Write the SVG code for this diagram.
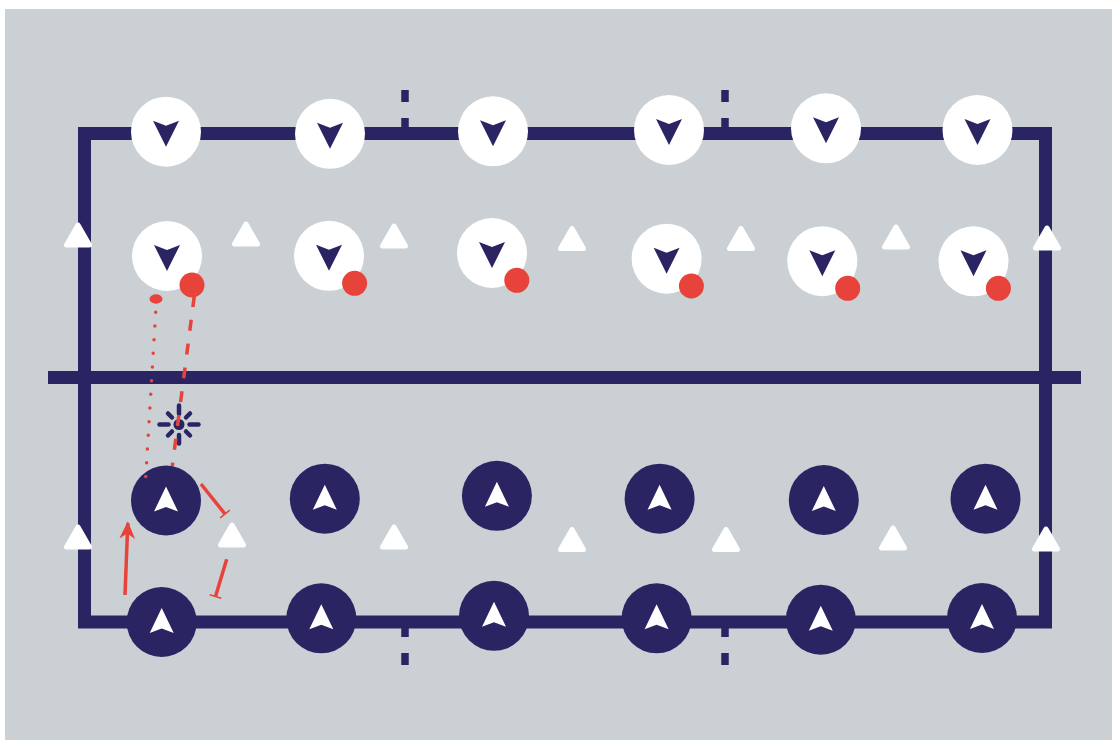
<svg xmlns="http://www.w3.org/2000/svg" width="1112" height="740" viewBox="0 0 1112 740">
<style>
.line{stroke:#2b2463;stroke-width:13;fill:none}
.mark{stroke:#2b2463;stroke-width:7.5;fill:none}
.wc{fill:#ffffff}
.nc{fill:#2b2463}
.cone{fill:#ffffff;stroke:#ffffff;stroke-width:5;stroke-linejoin:round}
.ball{fill:#e8433b}
.red{stroke:#e8433b;fill:none;stroke-width:3.5}
.ray{stroke:#2b2463;stroke-width:4.5;stroke-linecap:round}
</style>
<defs>
<path id="dn" d="M-13,-11 L0,-6 L13,-11 L0,15 Z" fill="#2b2463"/>
<path id="up" d="M0,-14 L12,11 L0,6.5 L-12,11 Z" fill="#ffffff"/>
<polygon id="cn" points="0,-10 -11.5,10 11.5,10" class="cone"/>
<g id="wp"><circle r="35" class="wc"/><use href="#dn"/></g>
<g id="np"><circle r="35" class="nc"/><use href="#up"/></g>
<marker id="ah" viewBox="0 0 10 10" refX="9" refY="5" markerWidth="5" markerHeight="5" orient="auto" markerUnits="strokeWidth">
<path d="M0,0.5 L10,5 L0,9.5 L3,5 Z" fill="#e8433b"/>
</marker>
<marker id="tb" viewBox="-2 -6 4 12" refX="0" refY="0" markerWidth="1.4" markerHeight="4.4" orient="auto" markerUnits="strokeWidth">
<path d="M0,-5 L0,5" stroke="#e8433b" stroke-width="1.2"/>
</marker>
</defs>
<rect x="0" y="0" width="1112" height="740" fill="#ffffff"/>
<rect x="5" y="9" width="1107" height="731" fill="#cad0d4"/>
<g id="field">
<rect x="84.5" y="133.5" width="961" height="488.5" class="line"/>
<line x1="48" y1="377.5" x2="1081" y2="377.5" class="line"/>
<path d="M405,90 V102 M405,118 V130 M725,90 V102 M725,118 V130 M405,620 V637 M405,653 V665 M725,620 V637 M725,653 V665" class="mark"/>
</g>
<g id="cones">
<use href="#cn" x="78" y="235"/>
<use href="#cn" x="246" y="234"/>
<use href="#cn" x="394" y="236"/>
<use href="#cn" x="572" y="238.5"/>
<use href="#cn" x="741" y="238.5"/>
<use href="#cn" x="896" y="237"/>
<use href="#cn" x="1047" y="238"/>
<use href="#cn" x="78" y="537"/>
<use href="#cn" x="232" y="535"/>
<use href="#cn" x="394" y="537"/>
<use href="#cn" x="572" y="539.5"/>
<use href="#cn" x="726" y="539.5"/>
<use href="#cn" x="893" y="538"/>
<use href="#cn" x="1046" y="539"/>
</g>
<g id="team-white">
<use id="w1" href="#wp" x="166" y="131.7"/>
<use id="w2" href="#wp" x="330" y="133.8"/>
<use id="w3" href="#wp" x="493" y="131.3"/>
<use id="w4" href="#wp" x="669" y="130"/>
<use id="w5" href="#wp" x="826" y="128.3"/>
<use id="w6" href="#wp" x="977.5" y="130"/>
<use id="w7" href="#wp" x="167" y="256"/>
<use id="w8" href="#wp" x="329" y="255.8"/>
<use id="w9" href="#wp" x="492" y="253"/>
<use id="w10" href="#wp" x="666.6" y="258.7"/>
<use id="w11" href="#wp" x="822.3" y="261.2"/>
<use id="w12" href="#wp" x="973.5" y="261.3"/>
</g>
<g id="balls">
<circle cx="192" cy="285" r="12.5" class="ball"/>
<circle cx="354.6" cy="283.3" r="12.5" class="ball"/>
<circle cx="516.8" cy="280.3" r="12.5" class="ball"/>
<circle cx="691.4" cy="286" r="12.5" class="ball"/>
<circle cx="847.7" cy="288.3" r="12.5" class="ball"/>
<circle cx="998.4" cy="288.3" r="12.5" class="ball"/>
<ellipse cx="156" cy="299" rx="6.5" ry="4.7" class="ball"/>
</g>
<g id="team-navy">
<use id="n1" href="#np" x="166" y="500.5"/>
<use id="n2" href="#np" x="324.8" y="498.7"/>
<use id="n3" href="#np" x="496.9" y="495.8"/>
<use id="n4" href="#np" x="659.6" y="498.7"/>
<use id="n5" href="#np" x="823.8" y="500"/>
<use id="n6" href="#np" x="985.5" y="498.7"/>
<use id="n7" href="#np" x="161.7" y="622"/>
<use id="n8" href="#np" x="321.3" y="618.3"/>
<use id="n9" href="#np" x="494" y="615.8"/>
<use id="n10" href="#np" x="656.6" y="618.3"/>
<use id="n11" href="#np" x="820.8" y="619.7"/>
<use id="n12" href="#np" x="982" y="618"/>
</g>
<g id="target">
<circle cx="179" cy="424.5" r="5.5" fill="#2b2463"/>
<g class="ray" transform="translate(179 424.5)">
<line x1="10.5" y1="0" x2="19.5" y2="0"/>
<line x1="-10.5" y1="0" x2="-19.5" y2="0"/>
<line x1="0" y1="10.5" x2="0" y2="19"/>
<line x1="0" y1="-10.5" x2="0" y2="-19"/>
<line x1="7" y1="7" x2="11" y2="11"/>
<line x1="-7" y1="7" x2="-11" y2="11"/>
<line x1="7" y1="-7" x2="11" y2="-11"/>
<line x1="-7" y1="-7" x2="-11" y2="-11"/>
</g>
</g>
<g id="connectors">
<line x1="155.7" y1="312.3" x2="145.7" y2="477" class="red" stroke-width="3.5" stroke-linecap="round" stroke-dasharray="0 13.7"/>
<line x1="194.3" y1="296" x2="172.3" y2="466" class="red" stroke-width="4" stroke-dasharray="11 13"/>
<line x1="125" y1="595" x2="127.8" y2="523" class="red" stroke-width="3.5" marker-end="url(#ah)"/>
<line x1="201" y1="484" x2="225" y2="514" class="red" stroke-width="3.5" marker-end="url(#tb)"/>
<line x1="226.7" y1="559.3" x2="215.5" y2="596.5" class="red" stroke-width="3.5" marker-end="url(#tb)"/>
</g>
</svg>
